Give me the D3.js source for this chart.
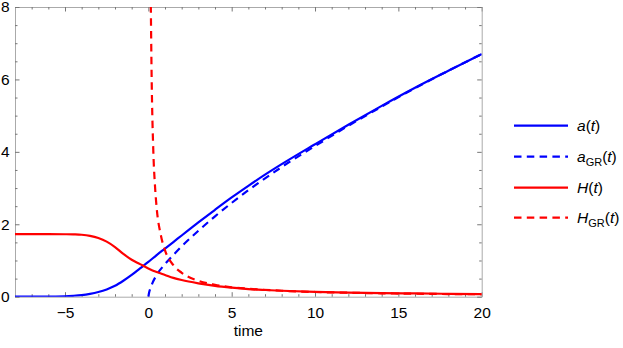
<!DOCTYPE html>
<html>
<head>
<meta charset="utf-8">
<script src="https://cdn.jsdelivr.net/npm/d3@7"></script>
<style>
  body { margin: 0; background: #fff; }
  svg { display: block; font-family: "Liberation Sans", Arial, sans-serif; }
</style>
</head>
<body>
<svg width="623" height="348"></svg>
<script>
// values
const tModel = [-8, -7, -6, -5, -4.5, -4, -3.5, -3, -2.5, -2, -1.5, -1, -0.5, 0, 0.5, 1, 1.5, 2, 3, 4, 5, 6, 7, 8, 10, 12, 14, 16, 18, 20];
const aModel = [0, 0.002, 0.005, 0.012, 0.025, 0.045, 0.08, 0.13, 0.2, 0.3, 0.44, 0.6, 0.78, 0.96, 1.15, 1.33, 1.51, 1.69, 2.05, 2.4, 2.74, 3.06, 3.37, 3.66, 4.21, 4.75, 5.27, 5.77, 6.24, 6.7];
const hModel = [1.73, 1.73, 1.73, 1.725, 1.72, 1.71, 1.68, 1.62, 1.52, 1.37, 1.18, 1.02, 0.9, 0.78, 0.68, 0.6, 0.52, 0.46, 0.37, 0.3, 0.25, 0.21, 0.185, 0.165, 0.135, 0.115, 0.1, 0.09, 0.08, 0.072];

const tGRa = [0, 0.05, 0.15, 0.25, 0.5, 1, 1.5, 2, 3, 4, 5, 6, 8, 10, 12, 14, 16, 18, 20];
const aGR = [0, 0.12, 0.26, 0.38, 0.6, 0.9, 1.15, 1.39, 1.82, 2.22, 2.59, 2.94, 3.58, 4.16, 4.72, 5.25, 5.76, 6.24, 6.7];

const tGRh = [0.14, 0.2, 0.3, 0.4, 0.5, 0.75, 1, 1.5, 2, 3, 4, 5, 6, 8, 10, 12, 14, 16, 18, 20];
const hGR = [8.4, 6.0, 4.0, 3.05, 2.45, 1.7, 1.28, 0.87, 0.66, 0.44, 0.33, 0.26, 0.22, 0.165, 0.13, 0.11, 0.094, 0.082, 0.073, 0.066];

const xMajor = [-5, 0, 5, 10, 15, 20];
const yMajor = [0, 2, 4, 6, 8];

//plot area in pixels
const plotLeft = 15, plotRight = 481.7, plotTop = 7, plotBottom = 296.7;

const svg = d3.select("svg");

const x = d3.scaleLinear().domain([-8, 20]).range([plotLeft, plotRight]);
const y = d3.scaleLinear().domain([0, 8]).range([plotBottom, plotTop]);

const xMinor = d3.range(-8, 21, 1).filter(v => !xMajor.includes(v));
const yMinor = d3.range(0, 8.01, 0.5).filter(v => !yMajor.includes(v));

// styling helper for the frame axes
function styleAxis(g) {
  g.select(".domain").attr("stroke", "#aaa").attr("stroke-width", 1);
  g.selectAll(".tick line").attr("stroke", "#777");
  g.selectAll(".tick text").attr("fill", "#000").style("font-size", "15.5px").style("font-family", "'Liberation Sans', Arial, sans-serif");
}

//bottom axis, labelled
svg.append("g")
  .attr("transform", `translate(0,${plotBottom})`)
  .call(d3.axisBottom(x).tickValues(xMajor).tickSizeInner(-4.5).tickSizeOuter(0).tickPadding(10)
    .tickFormat(d => d < 0 ? "\u2212" + Math.abs(d) : d))
  .call(styleAxis);
svg.append("g")
  .attr("transform", `translate(0,${plotBottom})`)
  .call(d3.axisBottom(x).tickValues(xMinor).tickSizeInner(-2.5).tickSizeOuter(0).tickFormat(""))
  .call(styleAxis)
  .select(".domain").remove();

//top axis
svg.append("g")
  .attr("transform", `translate(0,${plotTop})`)
  .call(d3.axisTop(x).tickValues(xMajor).tickSizeInner(-4.5).tickSizeOuter(0).tickFormat(""))
  .call(styleAxis);
svg.append("g")
  .attr("transform", `translate(0,${plotTop})`)
  .call(d3.axisTop(x).tickValues(xMinor).tickSizeInner(-2.5).tickSizeOuter(0).tickFormat(""))
  .call(styleAxis)
  .select(".domain").remove();

//left axis, labelled
svg.append("g")
  .attr("transform", `translate(${plotLeft},0)`)
  .call(d3.axisLeft(y).tickValues(yMajor).tickSizeInner(-4.5).tickSizeOuter(0).tickPadding(5.5))
  .call(styleAxis);
svg.append("g")
  .attr("transform", `translate(${plotLeft},0)`)
  .call(d3.axisLeft(y).tickValues(yMinor).tickSizeInner(-2.5).tickSizeOuter(0).tickFormat(""))
  .call(styleAxis)
  .select(".domain").remove();

//right axis
svg.append("g")
  .attr("transform", `translate(${plotRight},0)`)
  .call(d3.axisRight(y).tickValues(yMajor).tickSizeInner(-4.5).tickSizeOuter(0).tickFormat(""))
  .call(styleAxis);
svg.append("g")
  .attr("transform", `translate(${plotRight},0)`)
  .call(d3.axisRight(y).tickValues(yMinor).tickSizeInner(-2.5).tickSizeOuter(0).tickFormat(""))
  .call(styleAxis)
  .select(".domain").remove();

//x label
svg.append("text")
  .attr("x", (plotLeft + plotRight) / 2)
  .attr("y", 335.5)
  .attr("text-anchor", "middle")
  .style("font-size", "15.5px")
  .text("time");

//clip the curves to the frame
svg.append("clipPath").attr("id", "plotClip")
  .append("rect")
  .attr("x", plotLeft).attr("y", plotTop)
  .attr("width", plotRight - plotLeft).attr("height", plotBottom - plotTop);

const plot = svg.append("g").attr("clip-path", "url(#plotClip)");

const series = [
  {ts: tModel, vs: aModel, color: "#0000ff", dash: null},
  {ts: tGRa, vs: aGR, color: "#0000ff", dash: "7.5,5.3"},
  {ts: tModel, vs: hModel, color: "#ff0000", dash: null},
  {ts: tGRh, vs: hGR, color: "#ff0000", dash: "7.5,5.3"}
];

const line = d3.line()
  .x(d => x(d[0]))
  .y(d => y(d[1]))
  .curve(d3.curveMonotoneX);

series.forEach(s => {
  plot.append("path")
    .datum(s.ts.map((t, i) => [t, s.vs[i]]))
    .attr("fill", "none")
    .attr("stroke", s.color)
    .attr("stroke-width", 2.2)
    .attr("stroke-dasharray", s.dash)
    .attr("d", line);
});

//legend
const legendY = [125.7, 156.7, 187.7, 217.7];
const legend = svg.append("g");

series.forEach((s, i) => {
  legend.append("line")
    .attr("x1", 514).attr("x2", 568)
    .attr("y1", legendY[i]).attr("y2", legendY[i])
    .attr("stroke", s.color)
    .attr("stroke-width", 2.2)
    .attr("stroke-dasharray", s.dash);
});

const legendNames = [["a", ""], ["a", "GR"], ["H", ""], ["H", "GR"]];

legendNames.forEach((n, i) => {
  const txt = legend.append("text")
    .attr("x", 577)
    .attr("y", legendY[i] + 5.5)
    .style("font-size", "15.5px");
  txt.append("tspan").style("font-style", "italic").text(n[0]);
  if (n[1]) {
    txt.append("tspan").attr("dy", 4).style("font-size", "11px").text(n[1]);
    txt.append("tspan").attr("dy", -4).text("(");
  } else {
    txt.append("tspan").text("(");
  }
  txt.append("tspan").style("font-style", "italic").text("t");
  txt.append("tspan").text(")");
});
</script>
</body>
</html>
